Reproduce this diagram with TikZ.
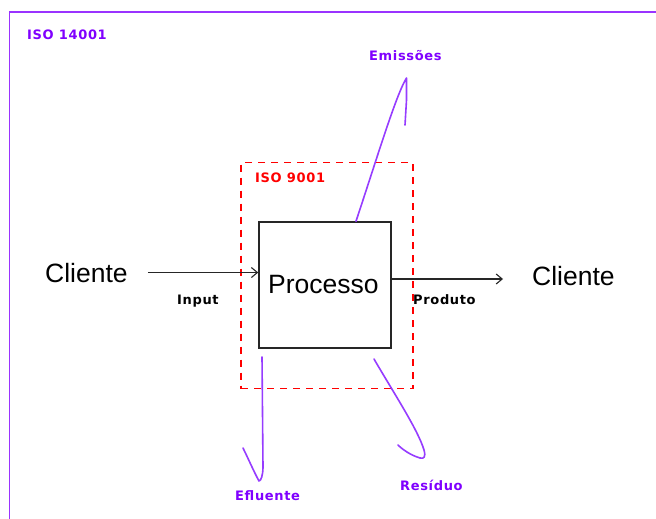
\documentclass[tikz,border=0pt]{standalone}
\usepackage{fontspec}
\setmainfont{Liberation Sans}
\newfontfamily\lblfont[LetterSpace=5]{DejaVu Sans Bold}
\usetikzlibrary{arrows.meta}
\definecolor{isoviolet}{RGB}{128,0,255}
\definecolor{flowviolet}{RGB}{150,60,255}
\definecolor{isored}{RGB}{255,0,0}
\tikzset{
  bigtext/.style={inner sep=0pt, anchor=base west, font=\fontsize{26.5}{30}\selectfont},
  smalllbl/.style={inner sep=0pt, anchor=base west, font=\lblfont\fontsize{13}{15}\selectfont},
  flowline/.style={draw=flowviolet, line width=1.6pt, line cap=round, line join=round},
  mainarrow/.style={draw=black!85, line width=1.3pt, -{Straight Barb[length=6pt,width=10pt,line width=1.1pt]}},
}
\begin{document}
\begin{tikzpicture}[x=1pt,y=-1pt]
\useasboundingbox (0,0) rectangle (656,519);
\fill[white] (0,0) rectangle (656,519);

% ISO 14001 frame (open to the right and bottom)
\draw[isoviolet!80, line width=1.8pt] (9.5,519) -- (9.5,12) -- (656,12);
\node[smalllbl, text=isoviolet] (iso14) at (27,39.3) {ISO 14001};

% ISO 9001 dashed frame
\node[draw=isored, dash pattern=on 7pt off 6pt, line width=1.4pt, minimum width=172pt, minimum height=226pt, inner sep=0pt] (q9001) at (327,275.5) {};
\node[smalllbl, text=isored] (iso9) at (255,182.7) {ISO 9001};

% process box
\node[draw=black!85, line width=1.5pt, minimum width=132pt, minimum height=126pt, inner sep=0pt] (box) at (325,285) {};
\node[bigtext] (proc) at (268,293) {Processo};

% clients
\node[bigtext] (cl1) at (45,282) {Cliente};
\node[bigtext] (cl2) at (532,285) {Cliente};

% input and output flows
\draw[mainarrow] ([xshift=20pt]cl1.east) -- (cl1.east -| box.west);
\coordinate (outend) at (503,279);
\draw[mainarrow] (box.east |- outend) -- (outend);
\node[smalllbl, text=black] (inp) at (177,304) {Input};
\node[smalllbl, text=black] (prod) at (413,304) {Produto};

% environmental aspects
\coordinate (emA) at ([xshift=31pt]box.north);
\draw[flowline] (emA) .. controls (378,155) and (396,95) .. (406.5,78) -- (406.5,100) -- (405,125);
\node[smalllbl, text=isoviolet] (emis) at (369,60) {Emissões};

\coordinate (efA) at (262,357);
\draw[flowline] (efA) -- (263,467) .. controls (263,475) and (261,481) .. (259,481) .. controls (254,472) and (248,458) .. (243,448);
\node[smalllbl, text=isoviolet] (eflu) at (235,500) {Efluente};

\coordinate (reA) at (374,359);
\draw[flowline] (reA) .. controls (395,395) and (418,430) .. (424,450) .. controls (426,457) and (424,459) .. (420,458) .. controls (410,455) and (402,449) .. (398,445);
\node[smalllbl, text=isoviolet] (resi) at (400,490) {Resíduo};
\end{tikzpicture}
\end{document}
